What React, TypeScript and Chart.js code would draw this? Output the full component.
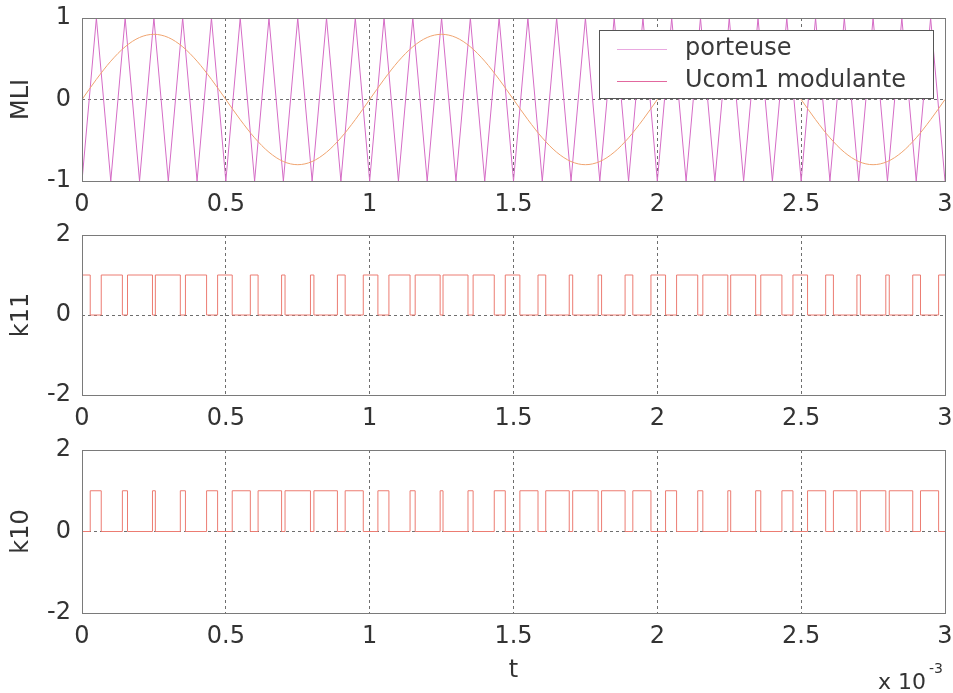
import React, { useEffect, useRef } from "react";
import { Chart, registerables } from "chart.js";

Chart.register(...registerables);

const FONT = "'DejaVu Sans', 'Liberation Sans', sans-serif";
const TEXT = "#333333";

// time samples (ms) for carrier vertices and modulating sine
const tGrid = [
  0, 0.05, 0.1, 0.15, 0.2, 0.25, 0.3, 0.35, 0.4, 0.45,
  0.5, 0.55, 0.6, 0.65, 0.7, 0.75, 0.8, 0.85, 0.9, 0.95,
  1, 1.05, 1.1, 1.15, 1.2, 1.25, 1.3, 1.35, 1.4, 1.45,
  1.5, 1.55, 1.6, 1.65, 1.7, 1.75, 1.8, 1.85, 1.9, 1.95,
  2, 2.05, 2.1, 2.15, 2.2, 2.25, 2.3, 2.35, 2.4, 2.45,
  2.5, 2.55, 2.6, 2.65, 2.7, 2.75, 2.8, 2.85, 2.9, 2.95, 3,
];

// porteuse (triangle carrier) vertex values
const porteuse = [
  -1, 1, -1, 1, -1, 1, -1, 1, -1, 1,
  -1, 1, -1, 1, -1, 1, -1, 1, -1, 1,
  -1, 1, -1, 1, -1, 1, -1, 1, -1, 1,
  -1, 1, -1, 1, -1, 1, -1, 1, -1, 1,
  -1, 1, -1, 1, -1, 1, -1, 1, -1, 1,
  -1, 1, -1, 1, -1, 1, -1, 1, -1, 1, -1,
];

// Ucom1 modulante values
const modulante = [
  0, 0.247, 0.47, 0.647, 0.761, 0.8, 0.761, 0.647, 0.47, 0.247,
  0, -0.247, -0.47, -0.647, -0.761, -0.8, -0.761, -0.647, -0.47, -0.247,
  0, 0.247, 0.47, 0.647, 0.761, 0.8, 0.761, 0.647, 0.47, 0.247,
  0, -0.247, -0.47, -0.647, -0.761, -0.8, -0.761, -0.647, -0.47, -0.247,
  0, 0.247, 0.47, 0.647, 0.761, 0.8, 0.761, 0.647, 0.47, 0.247,
  0, -0.247, -0.47, -0.647, -0.761, -0.8, -0.761, -0.647, -0.47, -0.247, 0,
];

// switching instants (ms) of the PWM commands
const switchTimes = [
  0.0286, 0.0669, 0.1404, 0.1582, 0.245, 0.255, 0.3418, 0.3596, 0.4331, 0.4714,
  0.5222, 0.5852, 0.6121, 0.6938, 0.7058, 0.7942, 0.8062, 0.8879, 0.9148, 0.9778,
  1.0286, 1.0669, 1.1404, 1.1582, 1.245, 1.255, 1.3418, 1.3596, 1.4331, 1.4714,
  1.5222, 1.5852, 1.6121, 1.6938, 1.7058, 1.7942, 1.8062, 1.8879, 1.9148, 1.9778,
  2.0286, 2.0669, 2.1404, 2.1582, 2.245, 2.255, 2.3418, 2.3596, 2.4331, 2.4714,
  2.5222, 2.5852, 2.6121, 2.6938, 2.7058, 2.7942, 2.8062, 2.8879, 2.9148, 2.9778,
];
const k11Start = 1;
const k10Start = 0;

const xTicks = [0, 0.5, 1, 1.5, 2, 2.5, 3];
const mliTicks = [-1, 0, 1];
const pwmTicks = [-2, 0, 2];
const legendLabels = ["porteuse", "Ucom1 modulante"];

const X_MIN = 0;
const X_MAX = 3;
const PLOT_LEFT = 82;
const PLOT_RIGHT_PAD = 8;
const CLEAR = "rgba(0,0,0,0)";
const GRID = "#6e6e6e";

function stepData(start: number, times: number[]) {
  const pts: { x: number; y: number }[] = [{ x: X_MIN, y: start }];
  let v = start;
  for (const t of times) {
    v = 1 - v;
    pts.push({ x: t, y: v });
  }
  pts.push({ x: X_MAX, y: v });
  return pts;
}

function xScale(height: number, title?: string) {
  return {
    type: "linear",
    min: X_MIN,
    max: X_MAX,
    afterBuildTicks: (s: any) => {
      s.ticks = xTicks.map((v) => ({ value: v }));
    },
    afterFit: (s: any) => {
      s.height = height;
    },
    ticks: {
      font: { family: FONT, size: 24 },
      color: TEXT,
      padding: 0,
      maxRotation: 0,
      autoSkip: false,
      callback: (v: any) => String(v),
    },
    grid: {
      drawTicks: true,
      tickLength: 9,
      tickColor: CLEAR,
      lineWidth: 1,
      color: (ctx: any) =>
        ctx.tick && (ctx.tick.value === X_MIN || ctx.tick.value === X_MAX)
          ? CLEAR
          : GRID,
    },
    border: { display: false, dash: [3, 3] },
    title: title
      ? {
          display: true,
          text: title,
          font: { family: FONT, size: 24 },
          color: TEXT,
          padding: { top: 0, bottom: 8 },
        }
      : { display: false },
  };
}

function yScale(ticks: number[], title: string) {
  return {
    type: "linear",
    min: ticks[0],
    max: ticks[ticks.length - 1],
    afterBuildTicks: (s: any) => {
      s.ticks = ticks.map((v) => ({ value: v }));
    },
    afterFit: (s: any) => {
      s.width = PLOT_LEFT;
    },
    ticks: {
      font: { family: FONT, size: 24 },
      color: TEXT,
      padding: 0,
      callback: (v: any) => String(v),
    },
    grid: {
      drawTicks: true,
      tickLength: 11,
      tickColor: CLEAR,
      lineWidth: 1,
      color: (ctx: any) => (ctx.tick && ctx.tick.value === 0 ? GRID : CLEAR),
    },
    border: { display: false, dash: [3, 3] },
    title: {
      display: true,
      text: title,
      font: { family: FONT, size: 24 },
      color: TEXT,
      padding: { top: 7, bottom: 0 },
    },
  };
}

const boxPlugin = {
  id: "boxFrame",
  afterDatasetsDraw(chart: any) {
    const { ctx, chartArea: a } = chart;
    ctx.save();
    ctx.strokeStyle = "#7a7a7a";
    ctx.lineWidth = 1;
    ctx.setLineDash([]);
    ctx.strokeRect(
      Math.round(a.left) + 0.5,
      Math.round(a.top) + 0.5,
      Math.round(a.right - a.left),
      Math.round(a.bottom - a.top)
    );
    ctx.restore();
  },
};

const legendPlugin = {
  id: "boxLegend",
  afterDraw(chart: any) {
    const { ctx } = chart;
    const x = 599.5;
    const y = 30.5;
    const w = 334;
    const h = 68;
    ctx.save();
    ctx.fillStyle = "#ffffff";
    ctx.fillRect(x, y, w, h);
    ctx.strokeStyle = "#555555";
    ctx.lineWidth = 1;
    ctx.setLineDash([]);
    ctx.strokeRect(x, y, w, h);
    const colors = ["#e9a8e0", "#e2689e"];
    const rows = [49, 81];
    ctx.font = `24px ${FONT}`;
    ctx.textBaseline = "middle";
    ctx.textAlign = "left";
    legendLabels.forEach((lbl, i) => {
      ctx.strokeStyle = colors[i];
      ctx.beginPath();
      ctx.moveTo(617, rows[i] + 0.5);
      ctx.lineTo(667, rows[i] + 0.5);
      ctx.stroke();
      ctx.fillStyle = "#3a3a3a";
      ctx.fillText(lbl, 685, rows[i]);
    });
    ctx.restore();
  },
};

const exponentPlugin = {
  id: "exponent",
  afterDraw(chart: any) {
    const { ctx } = chart;
    ctx.save();
    ctx.fillStyle = TEXT;
    ctx.textBaseline = "middle";
    ctx.textAlign = "right";
    ctx.font = `22px ${FONT}`;
    ctx.fillText("x 10", 926, 253);
    ctx.textAlign = "left";
    ctx.font = `14px ${FONT}`;
    ctx.fillText("-3", 929, 239);
    ctx.restore();
  },
};

function baseOptions(scales: any, padTop: number) {
  return {
    responsive: false,
    animation: false,
    devicePixelRatio: 1,
    layout: { padding: { top: padTop, right: PLOT_RIGHT_PAD, left: 0, bottom: 0 } },
    plugins: { legend: { display: false }, tooltip: { enabled: false } },
    elements: { point: { radius: 0 } },
    scales,
  };
}

export default function App() {
  const r1 = useRef<HTMLCanvasElement>(null);
  const r2 = useRef<HTMLCanvasElement>(null);
  const r3 = useRef<HTMLCanvasElement>(null);

  useEffect(() => {
    const c1 = new Chart(r1.current as HTMLCanvasElement, {
      type: "line",
      data: {
        datasets: [
          {
            label: legendLabels[1],
            data: tGrid.map((t, i) => ({ x: t, y: modulante[i] })),
            borderColor: "#f0a470",
            borderWidth: 1,
            cubicInterpolationMode: "monotone",
            pointRadius: 0,
          },
          {
            label: legendLabels[0],
            data: tGrid.map((t, i) => ({ x: t, y: porteuse[i] })),
            borderColor: "#d56cc6",
            borderWidth: 1,
            pointRadius: 0,
          },
        ],
      },
      options: baseOptions({ x: xScale(49), y: yScale(mliTicks, "MLI") }, 18) as any,
      plugins: [boxPlugin, legendPlugin],
    } as any);

    const c2 = new Chart(r2.current as HTMLCanvasElement, {
      type: "line",
      data: {
        datasets: [
          {
            label: "k11",
            data: stepData(k11Start, switchTimes),
            borderColor: "#ec7c72",
            borderWidth: 1,
            stepped: true,
            pointRadius: 0,
          },
        ],
      },
      options: baseOptions({ x: xScale(45), y: yScale(pwmTicks, "k11") }, 20) as any,
      plugins: [boxPlugin],
    } as any);

    const c3 = new Chart(r3.current as HTMLCanvasElement, {
      type: "line",
      data: {
        datasets: [
          {
            label: "k10",
            data: stepData(k10Start, switchTimes),
            borderColor: "#ec7c72",
            borderWidth: 1,
            stepped: true,
            pointRadius: 0,
          },
        ],
      },
      options: baseOptions({ x: xScale(80, "t"), y: yScale(pwmTicks, "k10") }, 20) as any,
      plugins: [boxPlugin, exponentPlugin],
    } as any);

    return () => {
      c1.destroy();
      c2.destroy();
      c3.destroy();
    };
  }, []);

  const cs = (top: number): React.CSSProperties => ({
    position: "absolute",
    left: 0,
    top,
  });

  return (
    <div
      style={{
        position: "absolute",
        left: 0,
        top: 0,
        width: 953,
        height: 693,
        background: "#ffffff",
        overflow: "hidden",
      }}
    >
      <canvas ref={r1} width={953} height={230} style={cs(0)} />
      <canvas ref={r2} width={953} height={225} style={cs(215)} />
      <canvas ref={r3} width={953} height={263} style={cs(430)} />
    </div>
  );
}
